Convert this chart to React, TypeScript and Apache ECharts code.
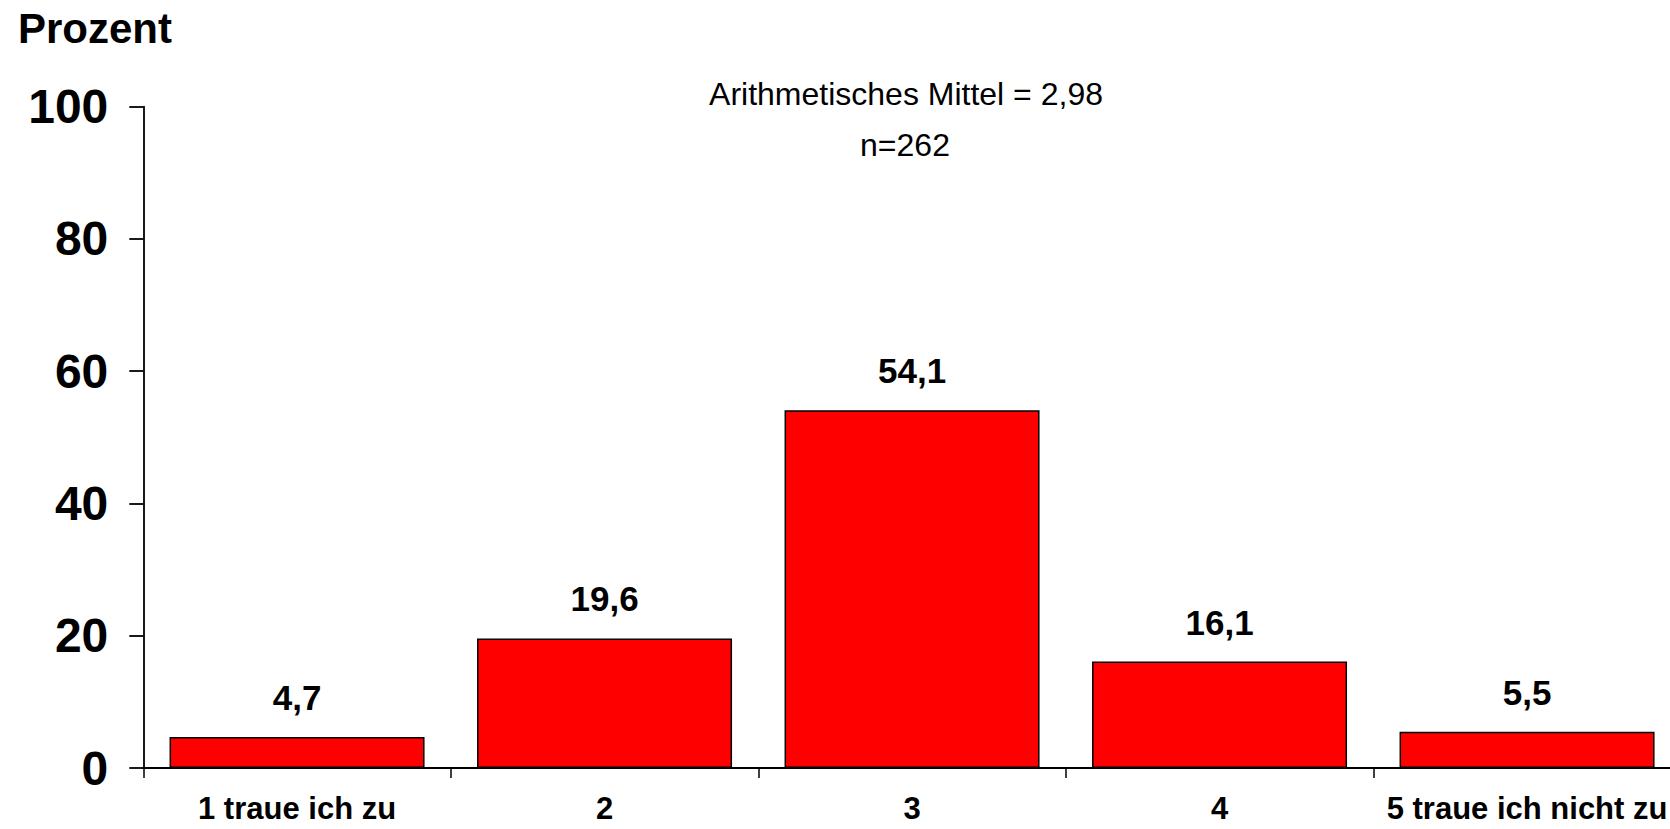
import React, { useEffect, useRef } from "react";
import * as echarts from "echarts";

const categories = ["1 traue ich zu", "2", "3", "4", "5 traue ich nicht zu"];
const values = [4.7, 19.6, 54.1, 16.1, 5.5];
const yTicks = [0, 20, 40, 60, 80, 100];
const unitLabel = "Prozent";
const meanText = "Arithmetisches Mittel = 2,98";
const nText = "n=262";

const FONT = "'Liberation Sans', Arial, sans-serif";

export default function App() {
  const ref = useRef<HTMLDivElement>(null);
  useEffect(() => {
    if (!ref.current) return;
    const chart = echarts.init(ref.current, null, { renderer: "svg" });
    chart.setOption({
      animation: false,
      backgroundColor: "#ffffff",
      grid: {
        left: 143.3,
        top: 106.7,
        width: 1537.5,
        height: 661.3,
        containLabel: false,
        outerBoundsMode: "none",
      },
      xAxis: {
        type: "category",
        data: categories,
        axisLine: { lineStyle: { color: "#000", width: 1.8 } },
        axisTick: { show: true, length: 10, lineStyle: { color: "#000", width: 1.5 } },
        axisLabel: {
          color: "#000",
          fontFamily: FONT,
          fontWeight: "bold",
          fontSize: 31,
          lineHeight: 31,
          margin: 25,
          interval: 0,
        },
      },
      yAxis: {
        type: "value",
        min: yTicks[0],
        max: yTicks[yTicks.length - 1],
        interval: 20,
        splitLine: { show: false },
        axisLine: { show: true, lineStyle: { color: "#000", width: 1.8 } },
        axisTick: { show: true, length: 14, lineStyle: { color: "#000", width: 1.8 } },
        axisLabel: {
          color: "#000",
          fontFamily: FONT,
          fontWeight: "bold",
          fontSize: 48,
          margin: 35,
        },
      },
      series: [
        {
          type: "bar",
          data: values,
          barWidth: 255,
          itemStyle: { color: "#ff0000", borderColor: "#000", borderWidth: 1.5 },
          label: {
            show: true,
            position: "top",
            distance: 22,
            color: "#000",
            fontFamily: FONT,
            fontWeight: "bold",
            fontSize: 35,
            formatter: (p: any) => String(p.value).replace(".", ","),
          },
        },
      ],
      graphic: [
        {
          type: "text",
          left: 18,
          top: 7,
          style: { text: unitLabel, fill: "#000", font: `bold 42px ${FONT}` },
        },
        {
          type: "text",
          x: 906,
          y: 94,
          style: {
            text: meanText,
            fill: "#000",
            font: `32px ${FONT}`,
            textAlign: "center",
            textVerticalAlign: "middle",
          },
        },
        {
          type: "text",
          x: 905,
          y: 145,
          style: {
            text: nText,
            fill: "#000",
            font: `32px ${FONT}`,
            textAlign: "center",
            textVerticalAlign: "middle",
          },
        },
      ],
    });
    return () => chart.dispose();
  }, []);
  return (
    <div
      ref={ref}
      style={{ position: "fixed", left: 0, top: 0, width: 1670, height: 829, background: "#fff" }}
    />
  );
}
